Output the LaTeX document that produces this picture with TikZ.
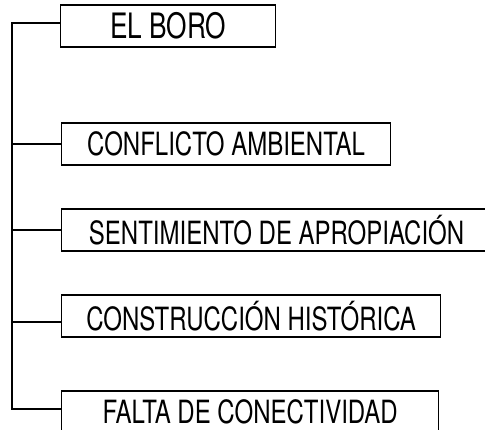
\documentclass[tikz,border=0pt]{standalone}
\usepackage{fontspec}
\newfontfamily\condfont[FakeStretch=0.75]{TeX Gyre Heros}
\usetikzlibrary{positioning}

\begin{document}
\begin{tikzpicture}[
  x=1pt, y=-1pt,
  box/.style  = {draw, line width=1.2pt, anchor=west, inner sep=0pt,
                 minimum height=42pt, align=center,
                 font=\condfont\fontsize{32}{32}\selectfont},
  link/.style = {line width=1.2pt}
]
  \useasboundingbox (0,0) rectangle (485,430);
  \clip (0,0) rectangle (485,430);

  % title box
  \node[box, minimum width=215pt, font=\condfont\fontsize{35}{35}\selectfont]
    (boro) at (60,26) {EL BORO};

  % topics
  \node[box, minimum width=329pt] (conflicto) at (61,144) {CONFLICTO AMBIENTAL};
  \node[box, minimum width=430pt] (sentimiento) at (61,230) {SENTIMIENTO DE APROPIACIÓN};
  \node[box, minimum width=379pt] (construccion) at (61,316) {CONSTRUCCIÓN HISTÓRICA};
  \node[box, minimum width=377pt] (falta) at (61,412) {FALTA DE CONECTIVIDAD};

  % trunk
  \coordinate (trunk) at (12,0);
  \coordinate (end) at ([yshift=3pt]falta.west);
  \draw[link] ([yshift=3pt]boro.west) -| (trunk |- end) -- (end);

  % branches
  \draw[link] (trunk |- conflicto.west) -- (conflicto.west);
  \draw[link] (trunk |- sentimiento.west) -- (sentimiento.west);
  \draw[link] (trunk |- construccion.west) ++(0,6) -- ([yshift=-6pt]construccion.west);
\end{tikzpicture}
\end{document}
